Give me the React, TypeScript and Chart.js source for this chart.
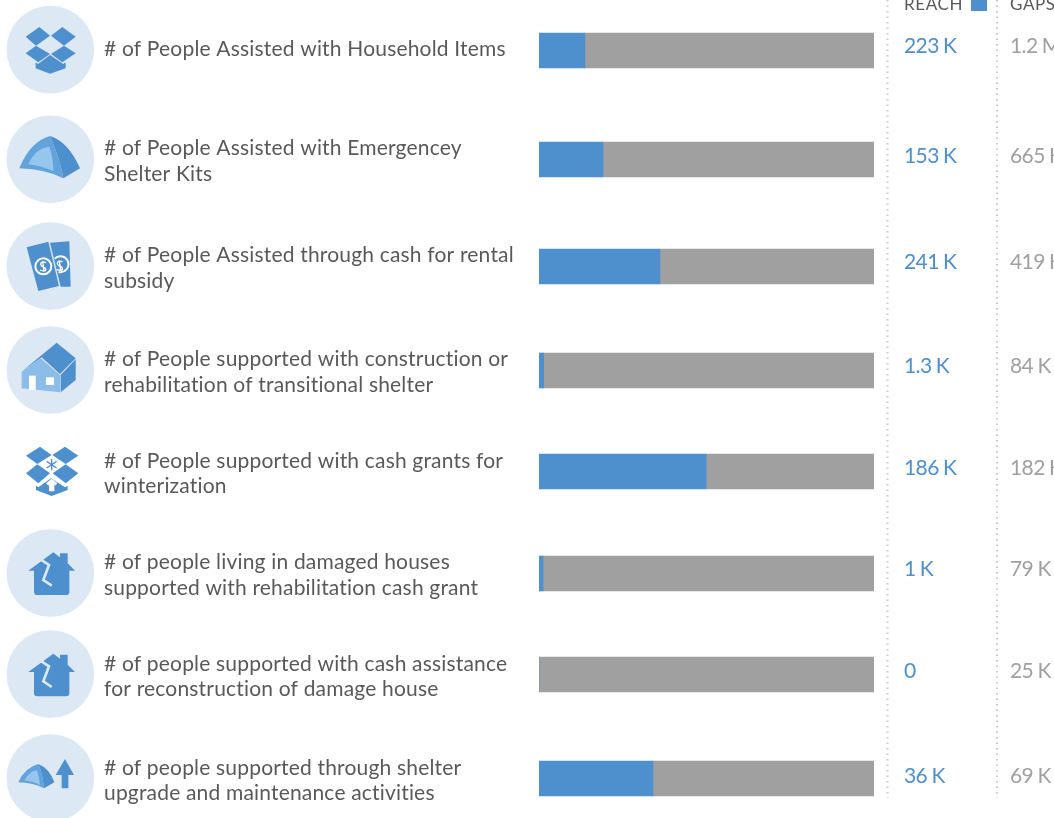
import React, { useEffect, useRef } from "react";
import { Chart, registerables } from "chart.js";

Chart.register(...registerables);

// ---- data ----
const rowLabels: string[][] = [
  ["# of People Assisted with Household Items"],
  ["# of People Assisted with Emergencey", "Shelter Kits"],
  ["# of People Assisted through cash for rental", "subsidy"],
  ["# of People supported with construction or", "rehabilitation of transitional shelter"],
  ["# of People supported with cash grants for", "winterization"],
  ["# of people living in damaged houses", "supported with rehabilitation cash grant"],
  ["# of people supported with cash assistance", "for reconstruction of damage house"],
  ["# of people supported through shelter", "upgrade and maintenance activities"],
];
const reachShare = [13.7, 19.1, 36.1, 1.4, 49.9, 1.2, 0, 34];
const gapShare = [86.3, 80.9, 63.9, 98.6, 50.1, 98.8, 100, 66];
const reachText = ["223 K", "153 K", "241 K", "1.3 K", "186 K", "1 K", "0", "36 K"];
const gapText = ["1.2 M", "665 K", "419 K", "84 K", "182 K", "79 K", "25 K", "69 K"];

// ---- layout (rows are unevenly spaced in the reference) ----
const barRow = [50.5, 159.5, 266.5, 370.5, 471.5, 573.5, 674.5, 778.5];
const labelRow = [49.5, 161, 268, 372, 473.5, 575, 676.5, 780.5];
const valueRow = [46.5, 156.5, 262.5, 366.5, 468.5, 569.5, 671.5, 776];

const BLUE = "#4e8fce";
const GREY = "#a0a0a0";
const TEXT = "#58595b";
const FONT = "Lato";
const SPACING = "0.18px";

const pagePlugin = {
  id: "page",
  beforeDraw(chart: any) {
    chart.ctx.letterSpacing = SPACING;
  },
  afterDraw(chart: any) {
    const { ctx, scales } = chart;
    const y = scales.y;
    ctx.save();
    // dotted separators
    ctx.strokeStyle = "#c9c9c9";
    ctx.lineWidth = 2;
    ctx.setLineDash([1.6, 3.9]);
    [887.5, 997].forEach((x) => {
      ctx.beginPath();
      ctx.moveTo(x, 0);
      ctx.lineTo(x, 798);
      ctx.stroke();
    });
    ctx.setLineDash([]);
    // header
    ctx.textBaseline = "alphabetic";
    ctx.textAlign = "left";
    ctx.font = `17px ${FONT}`;
    ctx.letterSpacing = "0.6px";
    ctx.fillStyle = TEXT;
    ctx.fillText("REACH", 904, 9.5);
    ctx.fillText("GAPS", 1010, 9.5);
    ctx.fillStyle = BLUE;
    ctx.fillRect(971, 0, 16, 11);
    // values
    ctx.textBaseline = "middle";
    ctx.font = `21px ${FONT}`;
    ctx.letterSpacing = "-0.6px";
    ctx.wordSpacing = "-0.5px";
    reachText.forEach((t, i) => {
      ctx.fillStyle = BLUE;
      ctx.fillText(t, 904, y.getPixelForValue(valueRow[i]));
      ctx.fillStyle = GREY;
      ctx.fillText(gapText[i], 1010, y.getPixelForValue(valueRow[i]));
    });
    ctx.wordSpacing = "0px";
    ctx.restore();
  },
};

const C = "#dce8f4";
const D = "#4e8fce";
const M = "#62a3dc";
const L = "#96c6ec";

function BrokenHouse({ dy }: { dy: number }) {
  return (
    <g transform={`translate(0 ${dy})`}>
      <path d="M85 752 L160 697 L180 712 V700 H203 V730 L225 752 H208 V815 Q208 825 198 825 H112 Q102 825 102 815 V752 Z" fill={D} />
      <path d="M118 716 L147 735 L130 780 L155 797" fill="none" stroke={C} strokeWidth={8} />
    </g>
  );
}

function Icons() {
  const circles = [
    [151, 149],
    [151, 478],
    [151, 798],
    [151, 1110],
    [151, 1719],
    [151, 2022],
    [151, 2334],
  ];
  return (
    <svg
      width={1054}
      height={818}
      viewBox="0 0 3162 2454"
      style={{ position: "absolute", left: 0, top: 0 }}
    >
      {circles.map(([x, y], i) => (
        <circle key={i} cx={x} cy={y} r={131.5} fill={C} />
      ))}
      {/* box */}
      <g fill={D}>
        <path d="M77 110 L118 81 L150 107 L108 137 Z" />
        <path d="M153 107 L187 81 L227 110 L192 137 Z" />
        <path d="M77 160 L108 137 L150 162 L115 187 Z" />
        <path d="M153 162 L192 137 L227 160 L187 187 Z" />
        <path d="M107 187 L114 192 L150 165 L190 192 L197 187 L197 205 L150 221 L107 205 Z" />
      </g>
      {/* tent */}
      <path d="M58 505 Q90 425 150 408 Q178 470 190 535 Q140 508 58 505 Z" fill={M} />
      <path d="M150 408 Q205 425 240 505 L190 535 Q178 470 150 408 Z" fill={D} />
      <path d="M85 493 Q105 445 148 440 Q160 475 160 513 Q125 498 85 493 Z" fill={L} />
      {/* money */}
      <g>
        <path d="M80 742 L145 725 L177 858 L115 873 Z" fill={D} />
        <path d="M150 728 L208 724 L212 860 L182 860 Z" fill={D} />
        <circle cx={130} cy={799} r={24} fill="none" stroke="#fff" strokeWidth={6} />
        <path d="M164 776 A24 24 0 1 1 176 816" fill="none" stroke="#fff" strokeWidth={6} />
        <path d="M138 788 Q122 782 122 793 Q124 800 132 802 Q140 806 136 812 Q130 814 120 810 M128 784 L132 815" fill="none" stroke="#fff" strokeWidth={4} />
        <path d="M188 785 Q172 780 172 791 Q174 798 182 800 Q190 804 186 810 Q180 812 170 808 M178 782 L182 812" fill="none" stroke="#fff" strokeWidth={4} />
      </g>
      {/* house */}
      <g transform="translate(0 960)">
        <path d="M65 155 L122 115 L180 165 L180 217 L65 205 Z" fill="#8cbde8" />
        <path d="M68 152 L170 68 L227 115 L180 162 L125 112 Z" fill={D} />
        <path d="M182 165 L227 118 L227 180 L182 217 Z" fill={D} />
        <rect x={87} y={167} width={20} height={43} fill="#fff" />
        <rect x={138} y={172} width={24} height={23} fill="#fff" />
      </g>
      {/* box with snow */}
      <g transform="translate(0 960)">
        <g fill={D}>
          <path d="M78 407 L120 380 L155 405 L112 432 Z" />
          <path d="M157 405 L195 380 L235 407 L197 432 Z" />
          <path d="M78 460 L112 433 L150 460 L115 490 Z" />
          <path d="M158 460 L197 433 L235 460 L197 490 Z" />
          <path d="M108 497 L115 502 L153 475 L195 502 L203 497 L203 510 L155 528 L108 510 Z" />
        </g>
        <path d="M155 417 V451 M140 424 L170 444 M170 424 L140 444" stroke={D} strokeWidth={4} fill="none" />
        <path d="M155 476 L172 490 L165 497 L163 493 V514 H147 V493 L145 497 L138 490 Z" fill="#fff" />
      </g>
      <g transform="translate(0 960)">
        <BrokenHouse dy={0} />
      </g>
      <BrokenHouse dy={1860 - 596} />
      {/* small tent and arrow */}
      <g transform="translate(0 1860)">
        <path d="M55 487 Q75 442 115 432 Q128 465 132 505 Q100 488 55 487 Z" fill={M} />
        <path d="M115 432 Q148 445 163 487 L132 505 Q128 465 115 432 Z" fill={D} />
        <path d="M73 481 Q88 455 110 451 Q118 470 120 495 Q100 484 73 481 Z" fill={L} />
        <path d="M195 417 L222 465 L205 465 L205 505 L185 505 L185 465 L167 465 Z" fill={D} />
      </g>
    </svg>
  );
}

export default function App() {
  const ref = useRef<HTMLCanvasElement>(null);
  useEffect(() => {
    const chart = new Chart(ref.current!, {
      type: "bar",
      data: {
        datasets: [
          {
            label: "REACH",
            data: reachShare.map((v, i) => ({ x: v, y: barRow[i] })),
            backgroundColor: BLUE,
          },
          {
            label: "GAPS",
            data: gapShare.map((v, i) => ({ x: v, y: barRow[i] })),
            backgroundColor: GREY,
          },
        ],
      },
      options: {
        indexAxis: "y",
        responsive: false,
        animation: false,
        devicePixelRatio: 1,
        layout: { padding: { left: 104, right: 180, top: 0, bottom: 0 } },
        datasets: { bar: { barThickness: 35 } },
        plugins: { legend: { display: false }, tooltip: { enabled: false } },
        scales: {
          x: { type: "linear", stacked: true, min: 0, max: 100, display: false },
          y: {
            type: "linear",
            stacked: true,
            reverse: true,
            offset: false,
            min: 0,
            max: 818,
            border: { display: false },
            grid: { display: false, drawTicks: false, offset: false },
            afterBuildTicks: (s: any) => {
              s.ticks = labelRow.map((value) => ({ value }));
            },
            afterFit: (s: any) => {
              s.width = 435;
              s.paddingTop = 0;
              s.paddingBottom = 0;
            },
            ticks: {
              autoSkip: false,
              crossAlign: "far",
              color: TEXT,
              font: { family: FONT, size: 21, lineHeight: 1.215 },
              callback: (_v: any, i: number) => rowLabels[i],
            },
          },
        },
      } as any,
      plugins: [pagePlugin],
    } as any);
    return () => chart.destroy();
  }, []);
  return (
    <div style={{ position: "absolute", left: 0, top: 0, width: 1054, height: 818, overflow: "hidden", background: "#fff" }}>
      <Icons />
      <canvas ref={ref} width={1054} height={818} style={{ position: "absolute", left: 0, top: 0 }} />
    </div>
  );
}
